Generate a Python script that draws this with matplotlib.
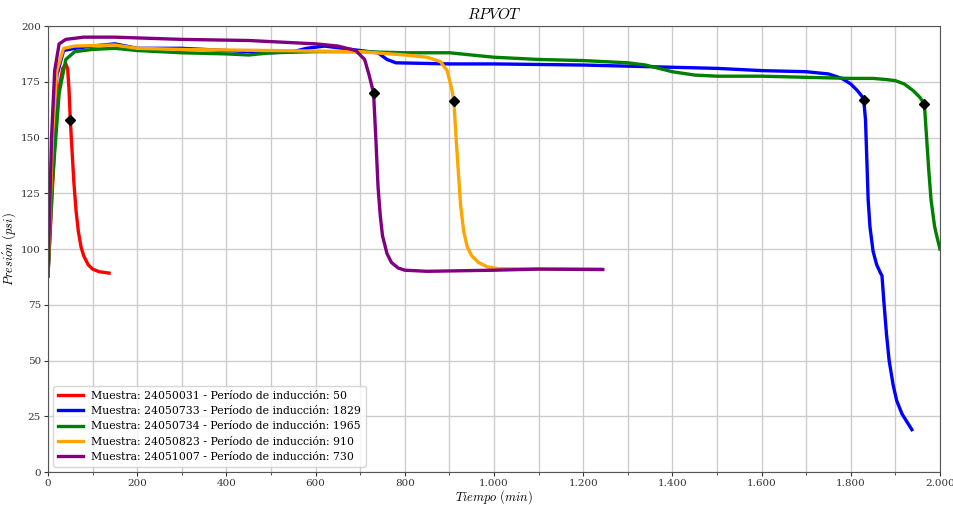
import numpy as np
import matplotlib
matplotlib.use("Agg")
import matplotlib.pyplot as plt
from matplotlib.ticker import MultipleLocator, FuncFormatter

plt.rcParams['font.family'] = 'DejaVu Serif'
plt.rcParams['mathtext.fontset'] = 'cm'

# Curvas de presión (tiempo en min, presión en psi)
t_24050031 = [0, 8, 16, 25, 33, 40, 44, 47, 50, 54, 58, 63, 68, 74, 80, 90, 100, 115, 137]
p_24050031 = [88, 120, 150, 172, 181, 183, 181, 172, 158, 144, 130, 117, 108, 101, 97, 93, 91,
              89.8, 89.2]

t_24050733 = [0, 10, 20, 35, 60, 100, 150, 200, 300, 400, 500, 550, 580, 620, 700, 740, 760, 780,
              900, 1000, 1200, 1300, 1400, 1500, 1600, 1700, 1750, 1780, 1800, 1815, 1825, 1829,
              1833, 1836, 1839, 1843, 1850, 1858, 1866, 1870, 1874, 1880, 1886, 1895, 1903, 1915,
              1937]
p_24050733 = [88, 145, 178, 189, 190, 191, 192, 190, 190, 189, 188, 188.5, 190, 191, 189, 188, 185,
              183.5, 183, 183, 182.5, 182, 181.5, 181, 180, 179.5, 178.5, 176.5, 174, 171, 168.5,
              167, 158, 140, 122, 110, 99, 93, 89.5, 88, 77, 62, 50, 39, 32, 26, 19]

t_24050734 = [0, 10, 25, 40, 60, 100, 150, 200, 300, 400, 450, 500, 600, 700, 800, 900, 1000,
              1100, 1200, 1300, 1340, 1370, 1400, 1450, 1500, 1600, 1700, 1800, 1850, 1880, 1900,
              1920, 1940, 1955, 1965, 1970, 1975, 1980, 1988, 1995, 2000]
p_24050734 = [88, 130, 170, 185, 188.5, 189.5, 190, 189, 188, 187.5, 187, 188, 188.5, 188.5, 188,
              188, 186, 185, 184.5, 183.5, 182.5, 181, 179.5, 178, 177.5, 177.5, 177, 176.5, 176.5,
              176, 175.5, 174, 171, 168, 165, 150, 135, 122, 110, 104, 100]

t_24050823 = [0, 10, 20, 35, 60, 150, 200, 300, 500, 700, 800, 850, 880, 895, 905, 910, 915, 920,
              925, 932, 940, 950, 965, 985, 1010, 1100, 1240]
p_24050823 = [88, 150, 180, 190, 191, 191.5, 190, 189.5, 189, 188.5, 187, 186, 184, 180, 172,
              166.5, 150, 135, 120, 108, 101, 97, 94, 92, 91.2, 91, 91]

t_24051007 = [0, 8, 15, 25, 40, 80, 150, 300, 450, 600, 650, 690, 710, 720, 730, 735, 740, 745,
              750, 760, 770, 785, 800, 850, 1000, 1100, 1244]
p_24051007 = [88, 150, 180, 192, 194, 195, 195, 194, 193.5, 192, 191, 189, 185, 178, 170, 150,
              128, 115, 106, 98, 94, 91.5, 90.5, 90, 90.5, 91, 90.8]

muestras = ['24050031', '24050733', '24050734', '24050823', '24051007']
periodos = [50, 1829, 1965, 910, 730]
colores = ['red', 'blue', 'green', 'orange', 'purple']
tiempos = [t_24050031, t_24050733, t_24050734, t_24050823, t_24051007]
presiones = [p_24050031, p_24050733, p_24050734, p_24050823, p_24051007]

fig = plt.figure(figsize=(9.54, 5.05), dpi=100)
ax = fig.add_axes([0.0503, 0.0653, 0.935, 0.8832])

for m, ip, c, t, p in zip(muestras, periodos, colores, tiempos, presiones):
    ax.plot(t, p, color=c, lw=2.4, label=f'Muestra: {m} - Período de inducción: {ip}')

# marcador en el período de inducción
for ip, t, p in zip(periodos, tiempos, presiones):
    ax.plot(ip, np.interp(ip, t, p), marker='D', color='black', ms=5, zorder=5)

ax.set_xlim(0, 2000)
ax.set_ylim(0, 200)
ax.xaxis.set_major_locator(MultipleLocator(200))
ax.xaxis.set_minor_locator(MultipleLocator(100))
ax.yaxis.set_major_locator(MultipleLocator(25))
ax.xaxis.set_major_formatter(FuncFormatter(lambda v, pos: f'{int(v):,}'.replace(',', '.')))
ax.grid(True, which='both', axis='x', color='#cccccc', lw=1)
ax.grid(True, which='major', axis='y', color='#cccccc', lw=1)
ax.set_axisbelow(True)
ax.tick_params(which='major', labelsize=7.5, colors='#333333', length=3, pad=2)
ax.tick_params(which='minor', colors='#333333', length=2)
for s in ax.spines.values():
    s.set_color('#555555')

ax.set_title(r'$RPVOT$', fontsize=11, pad=5)
ax.set_xlabel(r'$Tiempo\ (min)$', fontsize=9, labelpad=0)
ax.set_ylabel(r'$Presi\acute{o}n\ (psi)$', fontsize=9, labelpad=2)
ax.legend(loc='lower left', fontsize=7.8, handlelength=2.3, borderpad=0.4, labelspacing=0.5,
          borderaxespad=0.5)

fig.savefig('out.png', dpi=100)
